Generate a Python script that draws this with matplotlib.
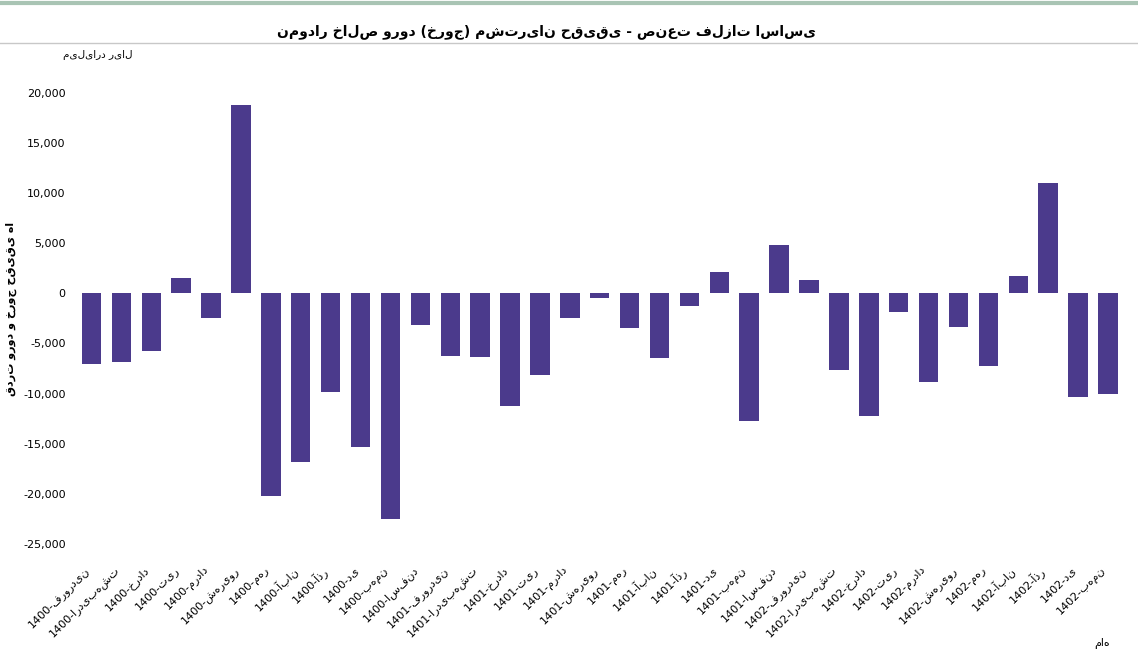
import matplotlib.pyplot as plt
from matplotlib.ticker import FuncFormatter

plt.rcParams['font.family'] = ['DejaVu Sans']

months = ['فروردین', 'اردیبهشت', 'خرداد', 'تیر', 'مرداد', 'شهریور',
          'مهر', 'آبان', 'آذر', 'دی', 'بهمن', 'اسفند']
labels = ['1400-' + m for m in months] + ['1401-' + m for m in months] + ['1402-' + m for m in months[:11]]

values_1400 = [-7000, -6800, -5700, 1500, -2500, 18800, -20200, -16800, -9800, -15300, -22500, -3200]
values_1401 = [-6200, -6300, -11200, -8100, -2500, -500, -3500, -6400, -1300, 2100, -12700, 4800]
values_1402 = [1300, -7600, -12200, -1900, -8800, -3400, -7200, 1700, 11000, -10300, -10000]
values = values_1400 + values_1401 + values_1402

fig = plt.figure(figsize=(11.38, 6.58), dpi=100)
ax = fig.add_axes([0.062, 0.15, 0.93, 0.775])
x = list(range(len(values)))
ax.bar(x, values, width=0.65, color='#4b3a8c')
ax.set_xlim(-0.7, len(values) - 0.3)
ax.set_ylim(-26500, 24300)
ax.set_yticks(range(-25000, 20001, 5000))
ax.yaxis.set_major_formatter(FuncFormatter(lambda v, p: f'{int(v):,}'))
ax.set_xticks(x)
ax.set_xticklabels(labels, rotation=45, ha='right', fontsize=8)
ax.tick_params(axis='y', labelsize=8, length=0)
ax.tick_params(axis='x', length=0)
for s in ax.spines.values():
    s.set_visible(False)

fig.text(0.48, 0.952, 'نمودار خالص ورود (خروج) مشتریان حقیقی - صنعت فلزات اساسی',
         ha='center', va='center', fontsize=10, fontweight='bold')
fig.text(0.055, 0.912, 'میلیارد ریال', fontsize=7.5, ha='left')
fig.text(0.01, 0.53, 'قدرت ورود و خروج حقیقی ها', rotation=90, fontsize=8,
         fontweight='bold', ha='center', va='center')
fig.text(0.975, 0.018, 'ماه', fontsize=8, ha='right')
fig.add_artist(plt.Line2D([0, 1], [0.935, 0.935], color='#c8c8c8', lw=1))
fig.add_artist(plt.Line2D([0, 1], [0.995, 0.995], color='#a9c4b4', lw=3))

fig.savefig('out.png')
